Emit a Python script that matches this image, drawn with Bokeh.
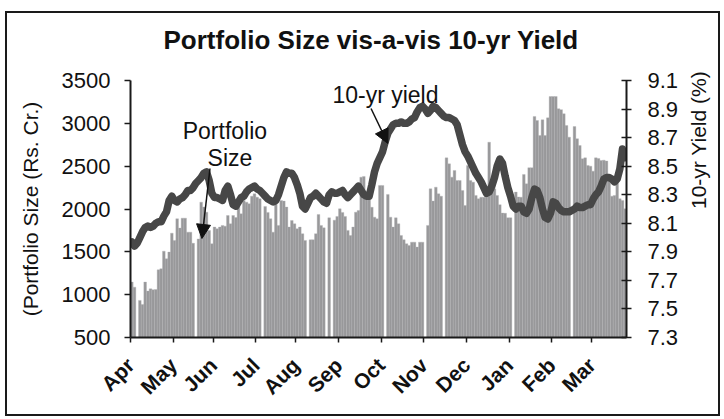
import math
from bokeh.plotting import figure
from bokeh.models import Range1d, LinearAxis, FixedTicker, Arrow, NormalHead, ColumnDataSource, InlineStyleSheet
from bokeh.core.properties import value
from bokeh.embed import file_html
from bokeh.resources import INLINE

# ---------------- data ----------------
months = ["Apr", "May", "Jun", "Jul", "Aug", "Sep", "Oct", "Nov", "Dec", "Jan", "Feb", "Mar"]

# Portfolio size (Rs. Cr.) per trading day, grouped by month (None = no bar)
port_apr = [1147, 1088, None, 933, 886, 1147, 1042, 1068, 1057, 1060, 1290, 1302, 1508, 1419, 1497, 1718]
port_may = [1633, 1886, 1777, 1893, 1893, 1730, 1730, 1600, None, 1650, 2080, 2022, 1963, 1750, 1594]
port_jun = [1789, 1769, 1789, 1808, 1800, 1924, 1827, 1924, 1900, 2030, 1944, 2100, 2080, 2061, 2150, 2177]
port_jul = [2138, 2120, None, 2030, 1960, 1886, 1730, 2080, 1808, 2100, 2092, 2022, 1789, 1866, 1827]
port_aug = [1769, 1789, 1711, 1633, None, 1640, 1640, 1711, 1936, 1808, 1780, None, 1897, None, 1870, 1913]
port_sep = [2002, 1960, 1913, 1750, 1690, 1789, 1963, 1983, 2372, 2380, 2138, 2138, 2020, 1905, 1886, 2275]
port_oct = [2275, None, 2170, 1905, 1789, 1897, 1827, 1691, 1640, 1594, 1574, 1613, 1613, 1555, 1613, 1613]
port_nov = [None, 1808, 2236, 2092, 2255, 2177, 2150, None, 2597, 2527, 2372, 2450, 2333, 2333, 2216, 2041]
port_dec = [2508, 2333, 2313, 2158, 2120, 2138, 2138, 2138, 2780, 2216, 2236, 2158, 2050, 1952, 1950, 1897]
port_jan = [1897, None, 2197, 2140, 2138, 2403, 2294, 2481, 2481, 3080, 3033, 2858, 3041, 2858, 3064, 3313]
port_feb = [3313, 3313, 3170, 3160, 3111, 2975, 2839, None, 2963, 2820, 2741, 2586, 2597, 2508, 2500]
port_mar = [2442, 2597, 2590, 2566, 2570, 2560, 2400, 2150, 2158, 2300, 2119, 2100, 2002]

# 10-yr yield (%) per trading day, grouped by month
yld_apr = [7.97, 7.94, 7.96, 8.00, 8.04, 8.07, 8.08, 8.07, 8.08, 8.10, 8.11, 8.11, 8.15, 8.18, 8.26, 8.29]
yld_may = [8.26, 8.25, 8.27, 8.28, 8.30, 8.33, 8.33, 8.35, 8.38, 8.40, 8.42, 8.45, 8.46, 8.40, 8.31]
yld_jun = [8.28, 8.28, 8.27, 8.26, 8.33, 8.36, 8.30, 8.23, 8.22, 8.25, 8.28, 8.29, 8.32, 8.34, 8.35, 8.36]
yld_jul = [8.34, 8.33, 8.31, 8.29, 8.27, 8.26, 8.25, 8.26, 8.30, 8.36, 8.42, 8.46, 8.45, 8.45, 8.42]
yld_aug = [8.37, 8.31, 8.22, 8.20, 8.24, 8.28, 8.29, 8.31, 8.29, 8.27, 8.25, 8.24, 8.30, 8.32, 8.31, 8.31]
yld_sep = [8.32, 8.33, 8.30, 8.28, 8.30, 8.32, 8.34, 8.36, 8.33, 8.30, 8.29, 8.29, 8.37, 8.46, 8.52, 8.56]
yld_oct = [8.60, 8.67, 8.73, 8.76, 8.79, 8.80, 8.80, 8.81, 8.80, 8.80, 8.81, 8.83, 8.84, 8.88, 8.91, 8.92]
yld_nov = [8.90, 8.87, 8.89, 8.92, 8.91, 8.89, 8.87, 8.85, 8.84, 8.84, 8.83, 8.82, 8.79, 8.72, 8.65, 8.60]
yld_dec = [8.57, 8.53, 8.49, 8.45, 8.42, 8.39, 8.35, 8.31, 8.32, 8.36, 8.42, 8.50, 8.55, 8.52, 8.43, 8.35]
yld_jan = [8.29, 8.22, 8.20, 8.22, 8.22, 8.18, 8.17, 8.20, 8.28, 8.34, 8.33, 8.28, 8.20, 8.14, 8.13, 8.17]
yld_feb = [8.25, 8.24, 8.21, 8.19, 8.18, 8.18, 8.18, 8.19, 8.20, 8.22, 8.21, 8.21, 8.22, 8.23, 8.23]
yld_mar = [8.27, 8.30, 8.32, 8.36, 8.41, 8.42, 8.42, 8.41, 8.39, 8.41, 8.48, 8.62, 8.56]

left_ticks = [500, 1000, 1500, 2000, 2500, 3000, 3500]
right_ticks = [7.3, 7.5, 7.7, 7.9, 8.1, 8.3, 8.5, 8.7, 8.9, 9.1]

title_text = "Portfolio Size vis-a-vis 10-yr Yield"
left_title = "(Portfolio Size (Rs. Cr.)"
right_title = "10-yr Yield (%)"

# ---------------- assemble ----------------
port_months = [port_apr, port_may, port_jun, port_jul, port_aug, port_sep,
               port_oct, port_nov, port_dec, port_jan, port_feb, port_mar]
yld_months = [yld_apr, yld_may, yld_jun, yld_jul, yld_aug, yld_sep,
              yld_oct, yld_nov, yld_dec, yld_jan, yld_feb, yld_mar]

portfolio = [v for m in port_months for v in m]
yields = [v for m in yld_months for v in m]
n_days = len(portfolio)

month_starts = []
acc = 0
for m in port_months:
    month_starts.append(acc)
    acc += len(m)

bar_x = [i + 0.5 for i, v in enumerate(portfolio) if v is not None]
bar_top = [v for v in portfolio if v is not None]
line_x = [i + 0.5 for i in range(len(yields))]

FONT = "Liberation Sans"
INK = "#111111"

p = figure(width=724, height=419, output_backend="svg", toolbar_location=None,
           x_range=Range1d(0, n_days), y_range=Range1d(left_ticks[0], left_ticks[-1]),
           min_border_left=130, min_border_right=94, min_border_top=80, min_border_bottom=82)
p.extra_y_ranges = {"yield": Range1d(right_ticks[0], right_ticks[-1])}
p.stylesheets = [InlineStyleSheet(css=(
    ":host::after { content: ''; position: absolute; left: 5px; top: 11px; right: 4px; bottom: 3px;"
    " border: 2px solid #1a1a1a; pointer-events: none; z-index: 50; }"))]

p.outline_line_color = None
p.xgrid.visible = False
p.ygrid.visible = False
p.background_fill_color = "white"
p.border_fill_color = "white"

# title
p.title.text = title_text
p.title.text_font = FONT
p.title.text_font_size = "26px"
p.title.text_font_style = "bold"
p.title.text_color = INK
p.title.align = "left"
p.title.offset = 33
p.title.standoff = 47
p.title.vertical_align = "top"

# bars
p.vbar(x=bar_x, top=bar_top, bottom=left_ticks[0], width=1.0,
       fill_color="#98989a", line_color="#b2b2b4", line_width=0.35)

# yield line
p.line(line_x, yields, y_range_name="yield", line_width=7.5, line_color="#474747",
       line_join="round", line_cap="round")

def style_axis(ax, size="22px"):
    ax.major_label_text_font = FONT
    ax.major_label_text_font_size = size
    ax.major_label_text_color = INK
    ax.minor_tick_line_color = None
    ax.axis_line_width = 2
    ax.axis_line_color = "#1a1a1a"
    ax.major_tick_line_width = 1.5
    ax.major_tick_line_color = "#1a1a1a"
    ax.axis_label_text_font = FONT
    ax.axis_label_text_font_size = "21px"
    ax.axis_label_text_font_style = "normal"
    ax.axis_label_text_color = INK

# x axis
xa = p.xaxis[0]
style_axis(xa, "21px")
xa.ticker = FixedTicker(ticks=month_starts)
xa.major_label_overrides = {s: m for s, m in zip(month_starts, months)}
xa.major_label_orientation = math.pi / 4
xa.major_label_text_font_style = "bold"
xa.major_label_standoff = 19
xa.major_tick_out = 5
xa.major_tick_in = 0

# left axis
ya = p.yaxis[0]
style_axis(ya)
ya.ticker = FixedTicker(ticks=left_ticks)
ya.major_label_standoff = 14
ya.major_tick_out = 6
ya.major_tick_in = 0
ya.axis_label = left_title
ya.axis_label_standoff = 17

# right axis
ra = LinearAxis(y_range_name="yield", ticker=FixedTicker(ticks=right_ticks))
style_axis(ra)
ra.major_label_overrides = {t: f"{t:.1f}" for t in right_ticks}
ra.major_label_standoff = 16
ra.major_tick_out = 5
ra.major_tick_in = 5
ra.axis_label = right_title
ra.axis_label_standoff = 17
try:
    ra.axis_label_orientation = math.pi / 2
except Exception:
    pass
p.add_layout(ra, "right")

# annotations
ann_src = ColumnDataSource(dict(x=[35.4, 37.3], y=[2905, 2590], t=["Portfolio", "Size"]))
p.text(x="x", y="y", text="t", source=ann_src, text_font=value(FONT), text_font_size="23px",
       text_align="center", text_baseline="middle", text_color=INK)
p.text(x=[95.6], y=[9.0], text=["10-yr yield"], y_range_name="yield", text_font=value(FONT),
       text_font_size="23px", text_align="center", text_baseline="middle", text_color=INK)

p.add_layout(Arrow(end=NormalHead(size=14, fill_color=INK, line_color=INK),
                   x_start=29.8, y_start=2473, x_end=26.8, y_end=1656,
                   line_width=1.5, line_color=INK))
p.add_layout(Arrow(end=NormalHead(size=14, fill_color=INK, line_color=INK),
                   x_start=90.2, y_start=8.904, x_end=96.5, y_end=8.659,
                   y_range_name="yield", line_width=1.5, line_color=INK))

open("out.html", "w").write(file_html(p, INLINE))
